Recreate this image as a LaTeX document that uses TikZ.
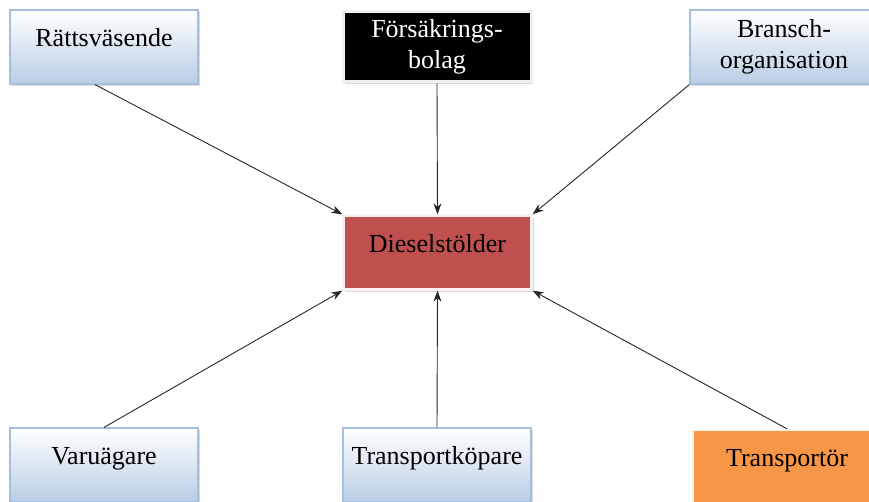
\documentclass[tikz,border=0pt]{standalone}
\usepackage{fontspec}
\setmainfont{Liberation Serif}
\usetikzlibrary{arrows.meta,shadows}

\definecolor{paleblue}{HTML}{B9CDE5}
\definecolor{edgeblue}{HTML}{A7BFDE}
\definecolor{brick}{HTML}{C0504D}
\definecolor{carrot}{HTML}{F79646}

\begin{document}
\begin{tikzpicture}[x=0.5pt,y=-0.5pt,
  box/.style={minimum width=94pt,minimum height=37pt,inner sep=0pt,align=center,
    font=\fontsize{13}{15.5}\selectfont,text height=9pt,text depth=9pt,
    drop shadow={shadow xshift=1.2pt,shadow yshift=-1.2pt,opacity=0.3,fill=gray}},
  twoline/.style={text height=,text depth=},
  bluebox/.style={box,top color=white,bottom color=paleblue,draw=edgeblue,line width=0.6pt},
  darkbox/.style={box,fill=black,draw=black!6,line width=1.5pt,text=white},
  redbox/.style={box,fill=brick,draw=white!92!brick,line width=1.2pt},
  orangebox/.style={box,fill=carrot,draw=white!92!carrot,line width=1.2pt},
  link/.style={draw=black!85,line width=0.45pt,-{Stealth[length=5.5pt,width=4pt]}}]
\useasboundingbox (0,0) rectangle (869,502);
\clip (0,0) rectangle (869,502);

% top row
\node[bluebox] (rat) at (104,47) {Rättsväsende};
\node[darkbox,twoline,minimum height=35pt] (fors) at (437,47) {Försäkrings-\\bolag};
\node[bluebox,twoline] (bra) at (784,47) {Bransch-\\organisation};

% middle
\node[redbox] (die) at (437.5,252.5) {Dieselstölder};

% bottom row
\node[bluebox] (var) at (104,465) {Varuägare};
\node[bluebox] (kop) at (437,465) {Transportköpare};
\node[orangebox] (tra) at (787,467) {Transportör};

% links
\draw[link] ([xshift=-4.5pt]rat.south) -- (die.north west);
\draw[link] (fors.south) -- (die.north);
\draw[link] (bra.south west) -- (die.north east);
\draw[link] (var.north) -- (die.south west);
\draw[link] (kop.north) -- (die.south);
\draw[link] (tra.north) -- (die.south east);
\end{tikzpicture}
\end{document}
